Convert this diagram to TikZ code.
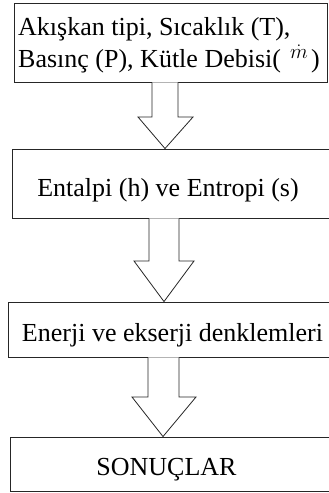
\documentclass[tikz,border=0pt]{standalone}
\usepackage{fontspec}
\setmainfont{Liberation Serif}
\usetikzlibrary{calc}
\begin{document}
\begin{tikzpicture}[x=1pt,y=-1pt,
  box/.style={draw=black!85,line width=0.9pt,rectangle,inner sep=0pt},
  lbl/.style={inner sep=0pt,font=\fontsize{26}{32}\selectfont},
  blockarrow/.style={draw=black!85,line width=0.8pt,fill=white,line join=miter}]
\useasboundingbox (0,0) rectangle (329,493);
% boxes
\node[box,minimum width=313pt,minimum height=79pt] (b1) at (170.5,42.5) {};
\node[box,minimum width=320pt,minimum height=69pt] (b2) at (172,183.5) {};
\node[box,minimum width=324pt,minimum height=55pt] (b3) at (170,329.5) {};
\node[box,minimum width=322pt,minimum height=54pt] (b4) at (171,464) {};
% texts
\node[lbl,anchor=base west] (t1a) at (18,35) {Akışkan tipi, Sıcaklık (T),};
\node[lbl,anchor=base west] (t1b) at (18,67) {Basınç (P), Kütle Debisi(};
\node[inner sep=0pt,anchor=base west,font=\fontsize{21}{21}\selectfont] (t1m) at (290,58.5) {$\dot{m}$};
\node[lbl,anchor=base west] (t1c) at (311,67) {)};
\node[lbl,anchor=base] (t2) at (168,196) {Entalpi (h) ve Entropi (s)};
\node[lbl,anchor=base] (t3) at (172.5,341) {Enerji ve ekserji denklemleri};
\node[lbl,anchor=base] (t4) at (166.5,475) {SONUÇLAR};
% block arrows
\draw[blockarrow] (152,0 |- b1.south) -- (152,117) -- (138,117) -- (165,0 |- b2.north)
  -- (193,117) -- (178,117) -- (178,0 |- b1.south);
\draw[blockarrow] (149,0 |- b2.south) -- (149,261) -- (134,261) -- (164,0 |- b3.north)
  -- (194,261) -- (179,261) -- (179,0 |- b2.south);
\draw[blockarrow] (148,0 |- b3.south) -- (148,397) -- (132,397) -- (163,0 |- b4.north)
  -- (196,397) -- (179,397) -- (179,0 |- b3.south);
\end{tikzpicture}
\end{document}
